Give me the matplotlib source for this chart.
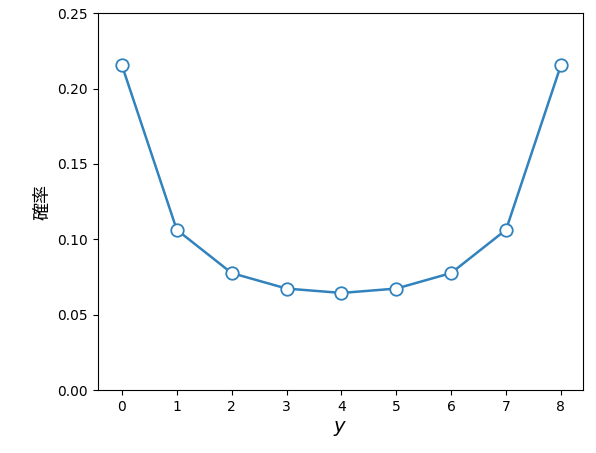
import matplotlib
matplotlib.use("Agg")
import matplotlib.pyplot as plt

plt.rcParams['font.family'] = ['DejaVu Sans', 'Noto Sans CJK JP']

y_vals = [0, 1, 2, 3, 4, 5, 6, 7, 8]
probs = [0.2155, 0.1063, 0.0776, 0.0673, 0.0644, 0.0673, 0.0776, 0.1063, 0.2155]

fig, ax = plt.subplots(figsize=(5.96, 4.53), dpi=100)
fig.subplots_adjust(left=0.164, right=0.978, top=0.971, bottom=0.139)

ax.plot(y_vals, probs, color='#3182bd', linewidth=1.8, marker='o',
        markersize=9, markerfacecolor='white', markeredgecolor='#3182bd',
        markeredgewidth=1.3)

ax.set_ylim(0, 0.25)
ax.set_xlim(-0.44, 8.4)
ax.set_xticks(y_vals)
ax.set_xlabel('$y$', fontsize=14)
ax.set_ylabel('確率', fontsize=13)

fig.savefig('out.png', dpi=100)
